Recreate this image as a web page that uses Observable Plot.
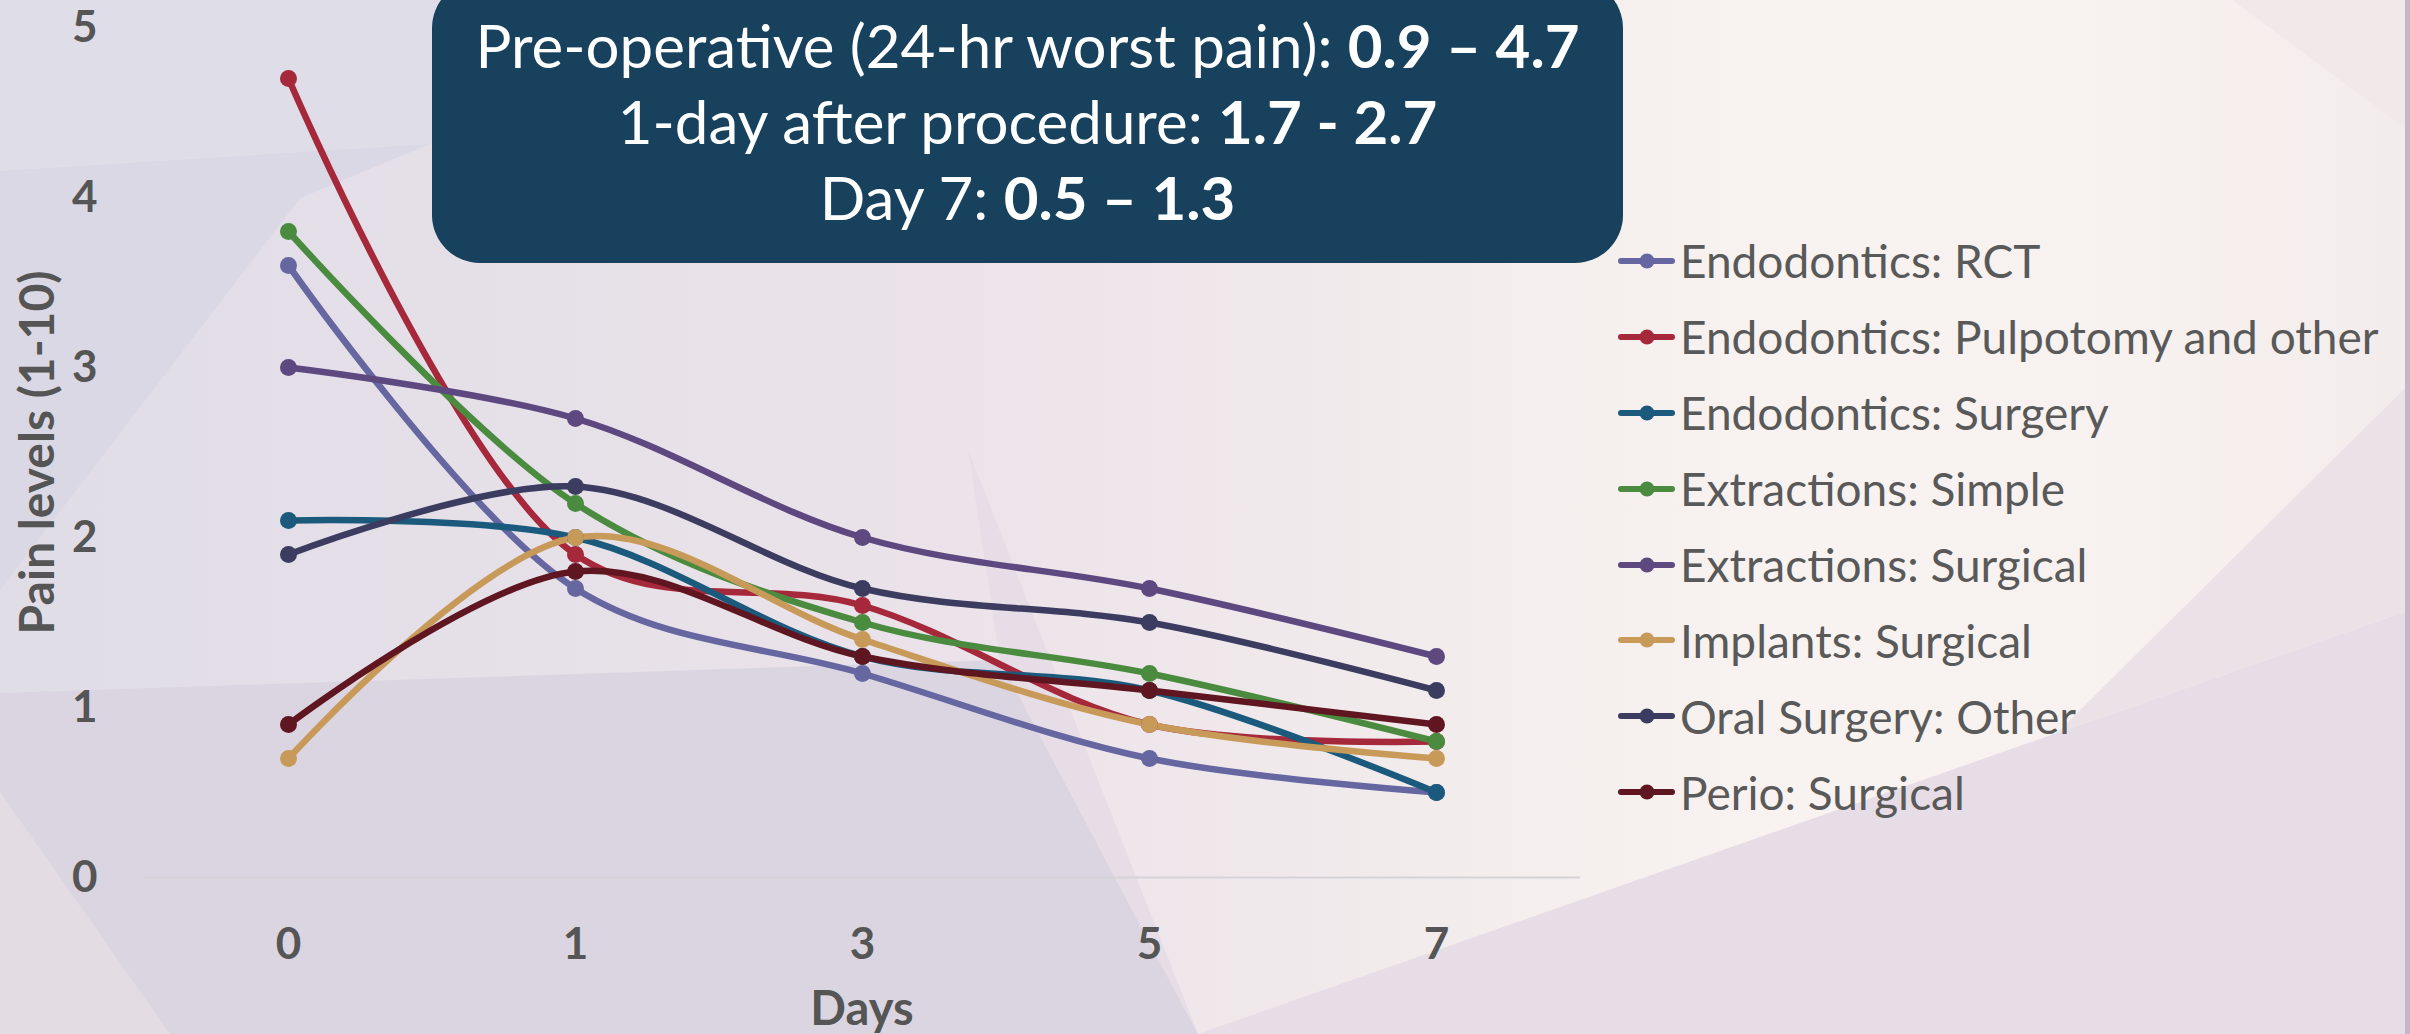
<!DOCTYPE html>
<html>
<head>
<meta charset="utf-8">
<script src="https://cdn.jsdelivr.net/npm/d3@7"></script>
<script src="https://cdn.jsdelivr.net/npm/@observablehq/plot@0.6"></script>
<style>
  html, body { margin: 0; padding: 0; }
  body { width: 2410px; height: 1034px; overflow: hidden; font-family: Lato, "Noto Sans", sans-serif; }
  #stage { position: relative; width: 2410px; height: 1034px; overflow: hidden;
    background: linear-gradient(90deg, #e0dde7 0%, #e6e0e8 22%, #ebe3e9 40%, #f2ebec 58%, #f8f3f0 74%, #f7f1ef 88%, #f3ecec 100%); }
  #bg { position: absolute; left: 0; top: 0; }
  #chart { position: absolute; left: 0; top: 0; }
  #chart svg { background: transparent !important; overflow: visible; }
  #chart svg [aria-label="y-axis tick label"] text,
  #chart svg [aria-label="x-axis tick label"] text { font-weight: 700; fill: #555555; }
  #chart svg [aria-label="y-axis tick label"], #chart svg [aria-label="x-axis tick label"] { fill: #555555; }
  #titlebox { position: absolute; left: 432px; top: -20px; width: 1191px; height: 283px;
    background: #17415c; border-radius: 48px; box-sizing: border-box; padding-top: 27px;
    color: #ffffff; text-align: center; font-size: 60px; line-height: 76px; }
  #titlebox b { font-weight: 700; }
  #legend { position: absolute; left: 1618px; top: 223px; }
  .row { display: flex; align-items: center; height: 75.9px; }
  .row svg { display: block; margin-right: 5px; }
  .row span { font-size: 46px; color: #595959; white-space: nowrap; }
</style>
</head>
<body>
<div id="stage">
  <svg id="bg" width="2410" height="1034">
    <polygon points="0,0 640,0 430,144 0,171" fill="#dedde8"/>
    <polygon points="0,171 430,144 300,198 0,590" fill="#dad8e4"/>
    <polygon points="0,693 1000,660 1198,1034 0,1034" fill="#dbd5e1"/>
    <polygon points="0,792 0,1034 170,1034" fill="#e3dde3"/>
    <polygon points="968,450 1198,1034 1000,660" fill="#e6dde6"/>
    <polygon points="1198,1034 2057,733 2410,610 2410,1034" fill="#e7dde6"/>
    <polygon points="2057,733 2410,383 2410,610" fill="#ebe2e8"/>
    <polygon points="2232,0 2410,0 2410,132" fill="#f1e8ea"/>
    <rect x="2405" y="0" width="5" height="1034" fill="#c6b6c8"/>
  </svg>
  <div id="chart"></div>
  <div id="titlebox">
    <div>Pre-operative (24-hr worst pain): <b>0.9 – 4.7</b></div>
    <div>1-day after procedure: <b>1.7 - 2.7</b></div>
    <div>Day 7: <b>0.5 – 1.3</b></div>
  </div>
  <div id="legend"></div>
</div>
<script>
const days = ["0", "1", "3", "5", "7"];
const seriesNames = [
  "Endodontics: RCT",
  "Endodontics: Pulpotomy and other",
  "Endodontics: Surgery",
  "Extractions: Simple",
  "Extractions: Surgical",
  "Implants: Surgical",
  "Oral Surgery: Other",
  "Perio: Surgical"
];
const seriesColors = ["#6667a0", "#a5283b", "#1b5a7c", "#4b8b40", "#5d4880", "#c89a5a", "#3b3c60", "#5f1621"];

const endoRCT       = [3.6, 1.7, 1.2, 0.7, 0.5];
const endoPulpotomy = [4.7, 1.9, 1.6, 0.9, 0.8];
const endoSurgery   = [2.1, 2.0, 1.3, 1.1, 0.5];
const extSimple     = [3.8, 2.2, 1.5, 1.2, 0.8];
const extSurgical   = [3.0, 2.7, 2.0, 1.7, 1.3];
const implSurgical  = [0.7, 2.0, 1.4, 0.9, 0.7];
const oralOther     = [1.9, 2.3, 1.7, 1.5, 1.1];
const perioSurgical = [0.9, 1.8, 1.3, 1.1, 0.9];

const yTicks = [0, 1, 2, 3, 4, 5];
const xTitle = "Days";
const yTitle = "Pain levels (1-10)";

const allSeries = [endoRCT, endoPulpotomy, endoSurgery, extSimple, extSurgical, implSurgical, oralOther, perioSurgical];
const rows = [];
allSeries.forEach((vals, i) => vals.forEach((v, j) => rows.push({series: seriesNames[i], day: days[j], value: v})));

const chart = Plot.plot({
  width: 2410,
  height: 1034,
  marginTop: 27,
  marginBottom: 157,
  marginLeft: 143,
  marginRight: 830,
  style: {fontFamily: "Lato, 'Noto Sans', sans-serif", background: "transparent", color: "#595959"},
  x: {type: "point", domain: days, padding: 0.5, label: null},
  y: {domain: [0, 5], label: null},
  color: {domain: seriesNames, range: seriesColors},
  marks: [
    Plot.ruleY([0], {stroke: "#d6d3d8", strokeWidth: 2}),
    Plot.axisY({ticks: yTicks, tickFormat: "d", tickSize: 0, tickPadding: 46, fontSize: 44, label: null}),
    Plot.axisX({tickSize: 0, tickPadding: 50, fontSize: 44, label: null}),
    Plot.text([yTitle], {frameAnchor: "left", dx: -105, rotate: -90, textAnchor: "middle", lineAnchor: "middle", fontSize: 48, fontWeight: 700, fill: "#555555"}),
    Plot.text([xTitle], {frameAnchor: "bottom", dy: 132, textAnchor: "middle", lineAnchor: "middle", fontSize: 47, fontWeight: 700, fill: "#555555"}),
    Plot.line(rows, {x: "day", y: "value", z: "series", stroke: "series", strokeWidth: 6.5, curve: "catmull-rom"}),
    Plot.dot(rows, {x: "day", y: "value", fill: "series", r: 8.5, stroke: "none"})
  ]
});
document.getElementById("chart").appendChild(chart);

const legend = document.getElementById("legend");
seriesNames.forEach((name, i) => {
  const row = document.createElement("div");
  row.className = "row";
  const c = seriesColors[i];
  row.innerHTML = `<svg width="57" height="20"><line x1="3" y1="10" x2="54" y2="10" stroke="${c}" stroke-width="6" stroke-linecap="round"/><circle cx="29" cy="10" r="7.5" fill="${c}"/></svg><span></span>`;
  row.querySelector("span").textContent = name;
  legend.appendChild(row);
});
</script>
</body>
</html>
